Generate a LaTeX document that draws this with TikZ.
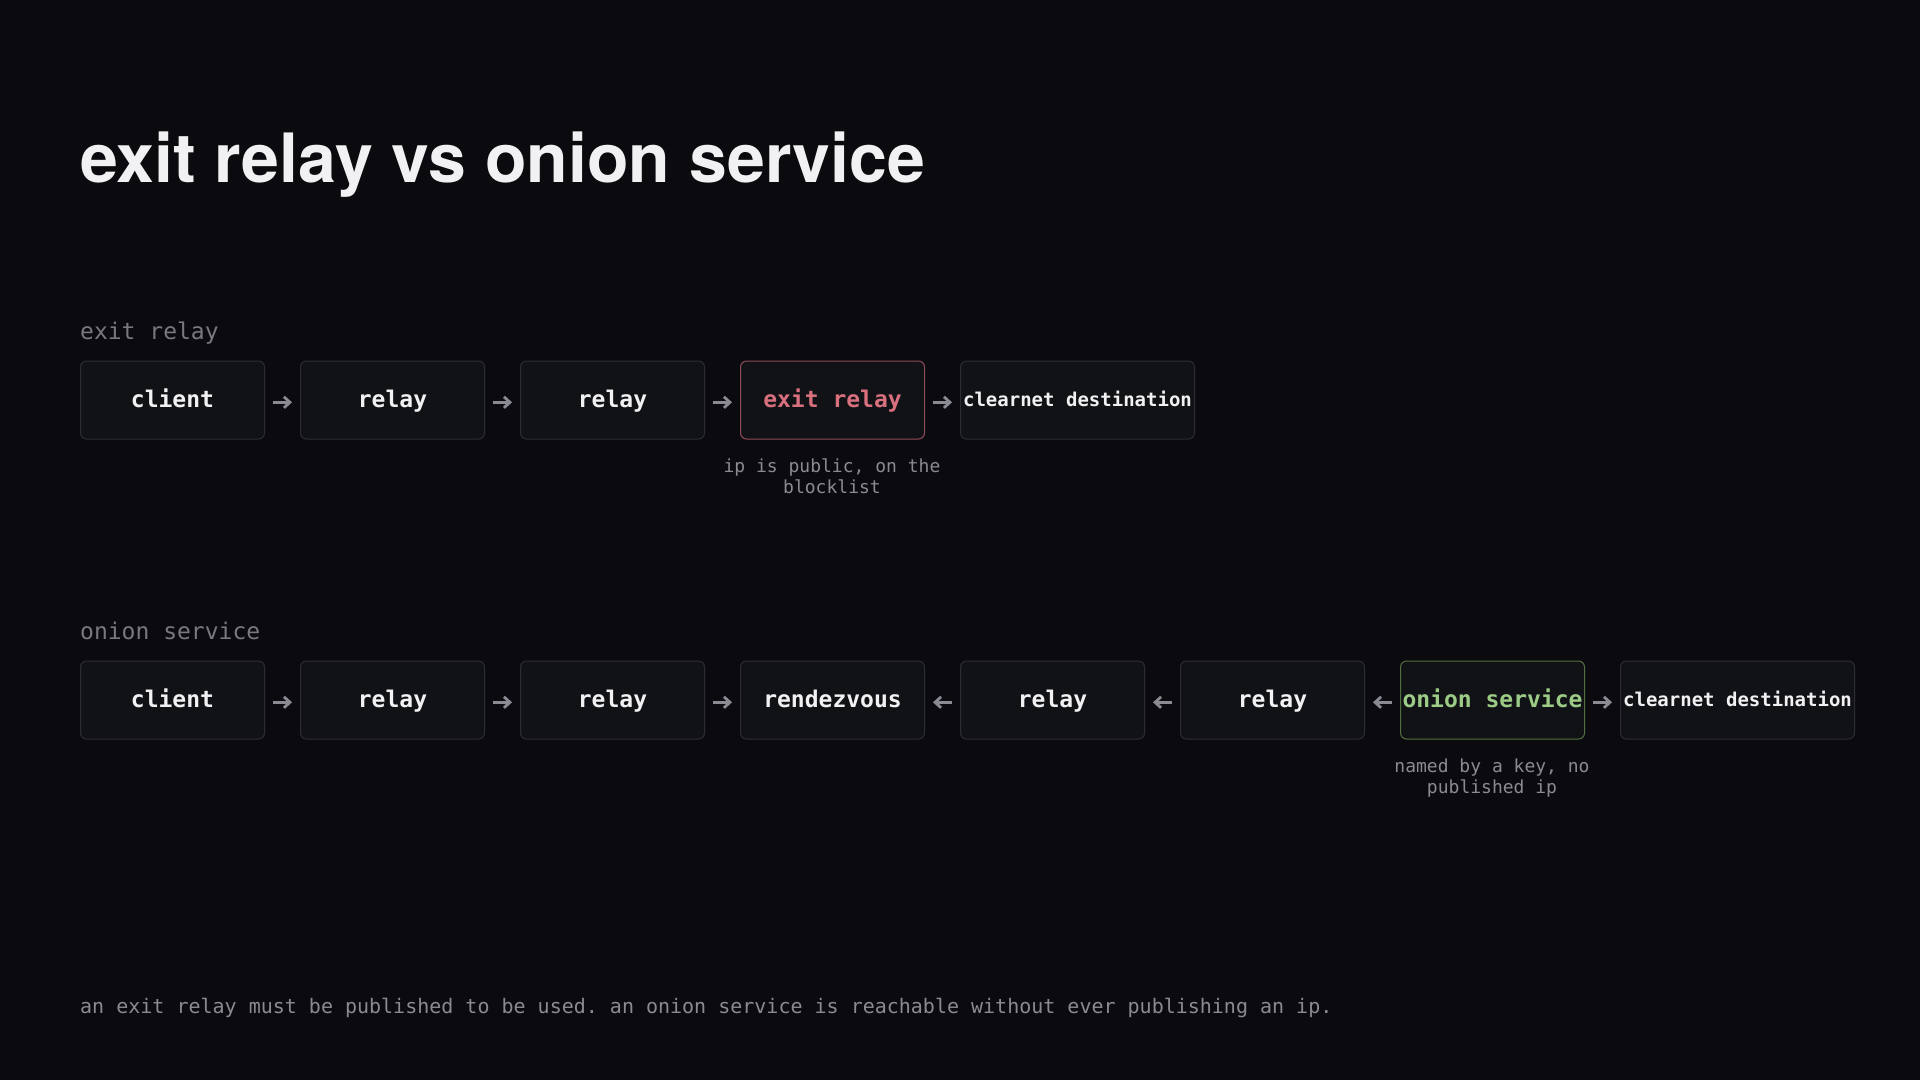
\documentclass[tikz,border=0pt]{standalone}
\usepackage{fontspec}
\setmainfont{TeX Gyre Heros}
\setmonofont{DejaVu Sans Mono}
\usetikzlibrary{arrows.meta}
\definecolor{bg}{HTML}{0B0B0F}
\definecolor{boxfill}{HTML}{111216}
\definecolor{boxline}{HTML}{2C2D32}
\definecolor{fg}{HTML}{F1F1F4}
\definecolor{muted}{HTML}{78787E}
\definecolor{capt}{HTML}{8A8A90}
\definecolor{arr}{HTML}{8A8A92}
\definecolor{redline}{HTML}{904C58}
\definecolor{redtext}{HTML}{D9707E}
\definecolor{greenline}{HTML}{52703F}
\definecolor{greentext}{HTML}{9CCB86}
\tikzset{
  hop/.style={draw=boxline, fill=boxfill, line width=1pt, rounded corners=6pt,
    minimum width=184pt, minimum height=78pt, inner sep=0pt, anchor=west,
    text height=19pt, text depth=5pt,
    text=fg, font=\ttfamily\bfseries\fontsize{23}{28}\selectfont},
  widehop/.style={hop, minimum width=234pt, text height=18pt, text depth=6pt,
    font=\ttfamily\bfseries\fontsize{19}{24}\selectfont},
  exitbox/.style={hop, draw=redline, text=redtext},
  onionbox/.style={hop, draw=greenline, text=greentext},
  seclabel/.style={anchor=base west, inner sep=0pt, text=muted, font=\ttfamily\fontsize{23}{28}\selectfont},
  note/.style={anchor=north, inner sep=0pt, align=center, text=capt, font=\ttfamily\fontsize{18}{21}\selectfont},
  link/.style={draw=arr, line width=2.8pt, shorten <=8pt, shorten >=8pt,
    -{Straight Barb[length=6pt,width=11pt]}},
}
\begin{document}
\begin{tikzpicture}[x=1pt,y=-1pt]
\fill[bg] (0,0) rectangle (1920,1080);
\useasboundingbox (0,0) rectangle (1920,1080);

\node[anchor=base west, inner sep=0pt, text=fg, font=\bfseries\fontsize{68}{80}\selectfont] (title) at (80,182) {exit relay vs onion service};

% row 1
\node[seclabel] (lab1) at (80,339) {exit relay};
\node[hop] (a1) at (80,400) {client};
\node[hop] (a2) at (300,400) {relay};
\node[hop] (a3) at (520,400) {relay};
\node[exitbox] (a4) at (740,400) {exit relay};
\node[widehop] (a5) at (960,400) {clearnet destination};
\draw[link] ([yshift=-2.3pt]a1.east) -- ([yshift=-2.3pt]a2.west);
\draw[link] ([yshift=-2.3pt]a2.east) -- ([yshift=-2.3pt]a3.west);
\draw[link] ([yshift=-2.3pt]a3.east) -- ([yshift=-2.3pt]a4.west);
\draw[link] ([yshift=-2.3pt]a4.east) -- ([yshift=-2.3pt]a5.west);
\node[note] (n1) at (832,458.5) {ip is public, on the\\blocklist};

% row 2
\node[seclabel] (lab2) at (80,639) {onion service};
\node[hop] (b1) at (80,700) {client};
\node[hop] (b2) at (300,700) {relay};
\node[hop] (b3) at (520,700) {relay};
\node[hop] (b4) at (740,700) {rendezvous};
\node[hop] (b5) at (960,700) {relay};
\node[hop] (b6) at (1180,700) {relay};
\node[onionbox] (b7) at (1400,700) {onion service};
\node[widehop] (b8) at (1620,700) {clearnet destination};
\draw[link] ([yshift=-2.3pt]b1.east) -- ([yshift=-2.3pt]b2.west);
\draw[link] ([yshift=-2.3pt]b2.east) -- ([yshift=-2.3pt]b3.west);
\draw[link] ([yshift=-2.3pt]b3.east) -- ([yshift=-2.3pt]b4.west);
\draw[link] ([yshift=-2.3pt]b5.west) -- ([yshift=-2.3pt]b4.east);
\draw[link] ([yshift=-2.3pt]b6.west) -- ([yshift=-2.3pt]b5.east);
\draw[link] ([yshift=-2.3pt]b7.west) -- ([yshift=-2.3pt]b6.east);
\draw[link] ([yshift=-2.3pt]b7.east) -- ([yshift=-2.3pt]b8.west);
\node[note] (n2) at (1492,758.5) {named by a key, no\\published ip};

% footer
\node[anchor=base west, inner sep=0pt, text=capt, font=\ttfamily\fontsize{20}{24}\selectfont] (foot) at (80,1013.5) {an exit relay must be published to be used. an onion service is reachable without ever publishing an ip.};
\end{tikzpicture}
\end{document}
